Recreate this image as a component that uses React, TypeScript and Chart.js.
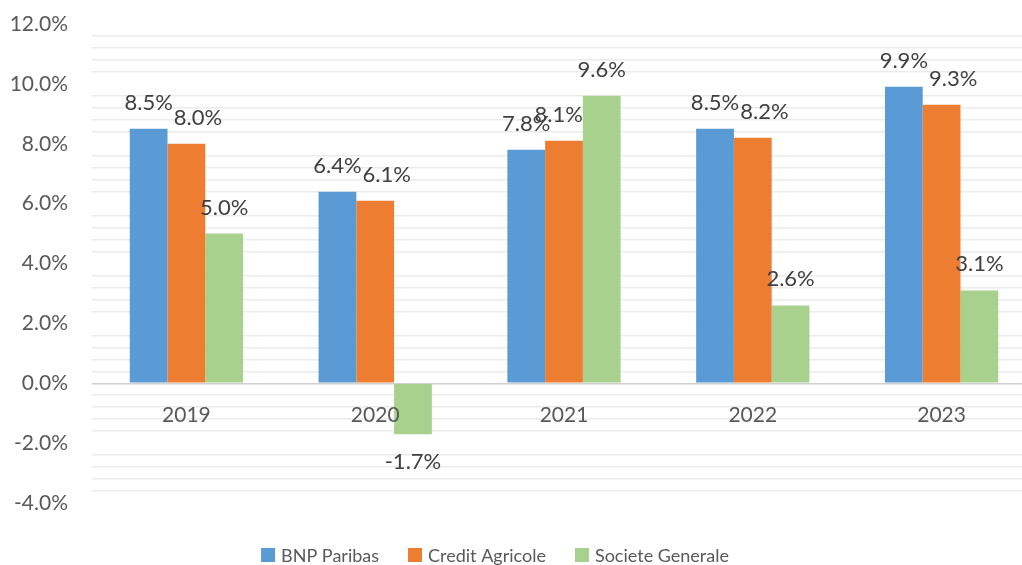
import React, { useEffect, useRef } from 'react';
import { Chart, registerables } from 'chart.js';

Chart.register(...registerables);

const categories = ['2019', '2020', '2021', '2022', '2023'];
const bnpParibas = [8.5, 6.4, 7.8, 8.5, 9.9];
const creditAgricole = [8.0, 6.1, 8.1, 8.2, 9.3];
const societeGenerale = [5.0, -1.7, 9.6, 2.6, 3.1];
const seriesNames = ['BNP Paribas', 'Credit Agricole', 'Societe Generale'];
const seriesColors = ['#5B9BD5', '#ED7D31', '#A9D18E'];
const yMin = -4;
const yMax = 12;
const yMinorStep = 0.4;
const yMajorStep = 2;

const FONT = 'Lato, "Open Sans", sans-serif';
const AXIS_COLOR = '#595959';
const LABEL_COLOR = '#404040';

const isMajor = (v: number) => Math.abs(v / yMajorStep - Math.round(v / yMajorStep)) < 1e-6;

const overlayPlugin = {
  id: 'overlay',
  afterDatasetsDraw(chart: any) {
    const ctx = chart.ctx;
    const yScale = chart.scales.y;
    const xScale = chart.scales.x;
    ctx.save();
    // category labels near zero line
    ctx.font = `21px ${FONT}`;
    ctx.fillStyle = AXIS_COLOR;
    ctx.textAlign = 'center';
    ctx.textBaseline = 'alphabetic';
    const zeroY = yScale.getPixelForValue(0);
    categories.forEach((c, i) => {
      ctx.fillText(c, xScale.getPixelForValue(i), zeroY + 39);
    });
    // data labels with simple collision avoidance
    ctx.font = `22px ${FONT}`;
    ctx.fillStyle = LABEL_COLOR;
    const capH = 16;
    const nDs = chart.data.datasets.length;
    categories.forEach((_c, i) => {
      const placed: { l: number; r: number; t: number; b: number }[] = [];
      chart.data.datasets.forEach((ds: any, di: number) => {
        const el = chart.getDatasetMeta(di).data[i];
        const v = ds.data[i];
        const txt = v.toFixed(1) + '%';
        const w = ctx.measureText(txt).width;
        const base = v >= 0 ? el.y - 19 : el.y + 35;
        let cx = el.x;
        const t = base - capH - 4;
        const b = base + 4;
        for (const p of placed) {
          const l = cx - w / 2;
          const r = cx + w / 2;
          if (t < p.b && b > p.t && l < p.r && r > p.l) {
            cx += p.r - l + 1;
          }
        }
        // keep label off taller neighbouring bars to the right
        for (let dj = di + 1; dj < nDs; dj++) {
          const bar = chart.getDatasetMeta(dj).data[i];
          const barTop = Math.min(bar.y, bar.base);
          const barBottom = Math.max(bar.y, bar.base);
          const barLeft = bar.x - bar.width / 2;
          if (t + 4 < barBottom && b - 4 > barTop && cx + w / 2 > barLeft) {
            cx = barLeft - w / 2;
          }
        }
        placed.push({ l: cx - w / 2, r: cx + w / 2, t, b });
        ctx.fillText(txt, cx, base);
      });
    });
    ctx.restore();
  },
  afterDraw(chart: any) {
    const ctx = chart.ctx;
    ctx.save();
    ctx.font = `18px ${FONT}`;
    const box = 14;
    const gapText = 6;
    const gapItem = 29;
    const widths = chart.data.datasets.map((ds: any) => ctx.measureText(ds.label).width);
    const total = widths.reduce((a: number, w: number) => a + box + gapText + w, 0) + gapItem * (widths.length - 1);
    let x = 495 - total / 2;
    const baseY = 562;
    ctx.textAlign = 'left';
    ctx.textBaseline = 'alphabetic';
    chart.data.datasets.forEach((ds: any, i: number) => {
      ctx.fillStyle = ds.backgroundColor;
      ctx.fillRect(x, baseY - 14, box, box);
      ctx.fillStyle = AXIS_COLOR;
      ctx.fillText(ds.label, x + box + gapText, baseY);
      x += box + gapText + widths[i] + gapItem;
    });
    ctx.restore();
  },
};

export default function App() {
  const canvasRef = useRef<HTMLCanvasElement | null>(null);

  useEffect(() => {
    const canvas = canvasRef.current;
    if (!canvas) return;
    const seriesData = [bnpParibas, creditAgricole, societeGenerale];
    const chart = new Chart(canvas, {
      type: 'bar',
      data: {
        labels: categories,
        datasets: seriesData.map((d, i) => ({
          label: seriesNames[i],
          data: d,
          backgroundColor: seriesColors[i],
          borderWidth: 0,
          categoryPercentage: 0.6,
          barPercentage: 1.0,
        })),
      },
      options: {
        animation: false,
        responsive: false,
        devicePixelRatio: 1,
        layout: { padding: { top: 24, bottom: 62, left: 0, right: 0 } },
        plugins: {
          legend: { display: false },
          tooltip: { enabled: false },
        },
        scales: {
          x: { display: false },
          y: {
            min: yMin,
            max: yMax,
            afterFit: (scale: any) => {
              scale.width = 92;
              scale.paddingTop = 0;
              scale.paddingBottom = 0;
            },
            border: { display: false },
            grid: {
              drawTicks: false,
              color: (ctx: any) => {
                const v = ctx.tick ? ctx.tick.value : 1;
                if (Math.abs(v) < 1e-6) return '#d0d0d0';
                if (isMajor(v)) return 'rgba(0,0,0,0)';
                return '#ebebeb';
              },
              lineWidth: 1.5,
            },
            ticks: {
              stepSize: yMinorStep,
              maxTicksLimit: 100,
              autoSkip: false,
              padding: 24,
              color: AXIS_COLOR,
              font: { family: FONT, size: 21 },
              callback: (v: any) => {
                const n = Number(v);
                return isMajor(n) ? n.toFixed(1) + '%' : '';
              },
            },
          },
        },
      },
      plugins: [overlayPlugin],
    });
    return () => chart.destroy();
  }, []);

  return (
    <div style={{ position: 'fixed', left: 0, top: 0, width: 1022, height: 565, overflow: 'hidden', background: '#fff' }}>
      <canvas ref={canvasRef} width={1036} height={565} style={{ width: 1036, height: 565, display: 'block' }} />
    </div>
  );
}
